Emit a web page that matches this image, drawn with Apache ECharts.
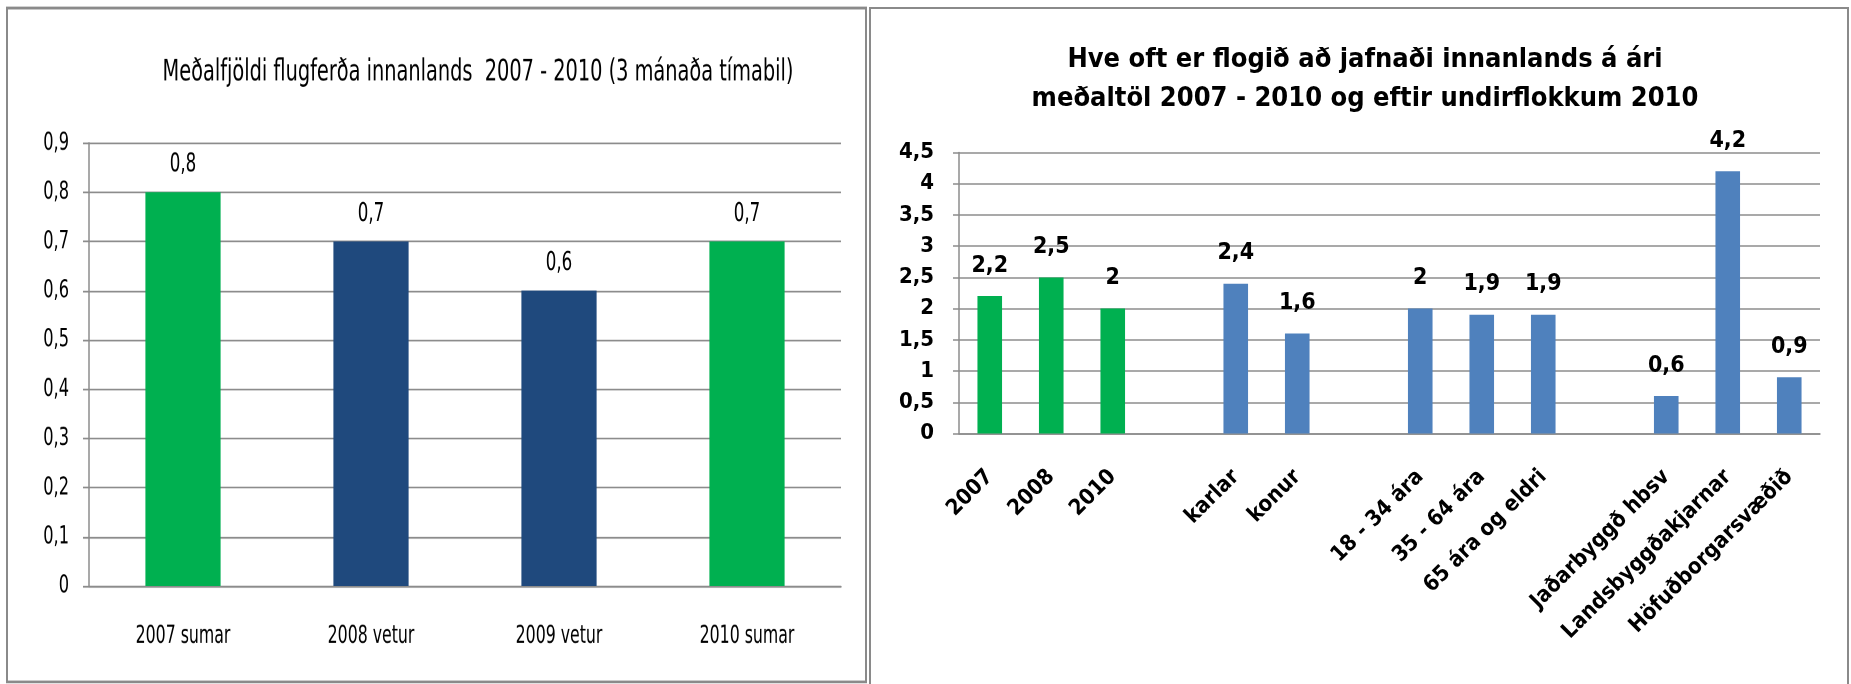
<!DOCTYPE html>
<html>
<head>
<meta charset="UTF-8">
<title>Flugferðir innanlands</title>
<script src="https://cdn.jsdelivr.net/npm/echarts@6/dist/echarts.min.js"></script>
<style>
  * { margin: 0; padding: 0; }
  html, body { width: 100%; height: 100%; background: #fff; }
  #wrap { position: relative; width: 1851px; height: 684px; overflow: hidden; }
  /* vinstra grafið er teygt á hæðina eins og í frumritinu */
  #left { position: absolute; left: 0; top: 0; width: 868px; height: 489px;
          transform: scaleY(1.39877); transform-origin: 0 0; }
  #right { position: absolute; left: 868px; top: 0; width: 983px; height: 684px; }
</style>
</head>
<body>
<div id="wrap">
  <div id="left"></div>
  <div id="right"></div>
</div>
<script>
// vinstra graf: 3 mánaða tímabil
var periodCats = ['2007 sumar', '2008 vetur', '2009 vetur', '2010 sumar'];
var periodVals = [0.8, 0.7, 0.6, 0.7];
var leftTicks = [0, 0.1, 0.2, 0.3, 0.4, 0.5, 0.6, 0.7, 0.8, 0.9];

// hægra graf: á ári, eftir undirflokkum
var yearCats = ['2007', '2008', '2010'];
var yearVals = [2.2, 2.5, 2];
var genderCats = ['karlar', 'konur'];
var genderVals = [2.4, 1.6];
var ageCats = ['18 - 34 ára', '35 - 64 ára', '65 ára og eldri'];
var ageVals = [2, 1.9, 1.9];
var regionCats = ['Jaðarbyggð hbsv', 'Landsbyggðakjarnar', 'Höfuðborgarsvæðið'];
var regionVals = [0.6, 4.2, 0.9];
var rightTicks = [0, 0.5, 1, 1.5, 2, 2.5, 3, 3.5, 4, 4.5];

var GREEN = '#00b050', DARK = '#1f497d', BLUE = '#4f81bd', GRID = '#8c8c8c';
var FONT = '"Liberation Sans Narrow", "DejaVu Sans Condensed", "Liberation Sans", sans-serif';

function comma(v) {
    return String(+(+v).toFixed(1)).replace('.', ',');
}

// hópar með auðu bili á milli
var rightCats = [], rightVals = [];
[[yearCats, yearVals], [genderCats, genderVals], [ageCats, ageVals], [regionCats, regionVals]].forEach(function (g, i) {
    if (i > 0) { rightCats.push(''); rightVals.push(null); }
    for (var k = 0; k < g[0].length; k++) {
        rightCats.push(g[0][k]);
        rightVals.push(g[1][k]);
    }
});

var leftChart = echarts.init(document.getElementById('left'), null, { devicePixelRatio: 2 });
leftChart.setOption({
    animation: false,
    textStyle: { fontFamily: FONT, color: '#000' },
    graphic: [
        { type: 'rect', shape: { x: 7, y: 5.7, width: 859, height: 481.8 }, style: { fill: 'none', stroke: '#8a8a8a', lineWidth: 2 } }
    ],
    title: {
        text: 'Meðalfjöldi flugferða innanlands  2007 - 2010 (3 mánaða tímabil)',
        left: 473, top: 36, textAlign: 'center',
        textStyle: { fontFamily: FONT, fontSize: 21.5, fontWeight: 'normal', color: '#000' }
    },
    grid: { left: 89, right: 27, top: 102.2, bottom: 70 },
    xAxis: {
        type: 'category', data: periodCats,
        axisLine: { lineStyle: { color: GRID, width: 1.3 } },
        axisTick: { length: 5.7, lineStyle: { color: GRID, width: 1.5 } },
        axisLabel: { fontFamily: FONT, fontSize: 17.5, color: '#000', margin: 27 }
    },
    yAxis: {
        type: 'value', min: leftTicks[0], max: leftTicks[leftTicks.length - 1], interval: 0.1,
        axisLine: { show: true, lineStyle: { color: GRID, width: 1.5 } },
        axisTick: { show: true, length: 6, lineStyle: { color: GRID, width: 1.3 } },
        splitLine: { lineStyle: { color: GRID, width: 1.3 } },
        axisLabel: { fontFamily: FONT, fontSize: 18, color: '#000', margin: 20, formatter: comma }
    },
    series: [{
        type: 'bar', data: periodVals,
        barWidth: '40%',
        itemStyle: {
            color: function (p) { return p.name.indexOf('sumar') >= 0 ? GREEN : DARK; }
        },
        label: {
            show: true, position: 'top', distance: 10,
            fontFamily: FONT, fontSize: 18.5, color: '#000',
            formatter: function (p) { return comma(p.value); }
        }
    }]
});

var rightChart = echarts.init(document.getElementById('right'));
rightChart.setOption({
    animation: false,
    textStyle: { fontFamily: FONT, color: '#000' },
    graphic: [
        { type: 'rect', shape: { x: 2, y: 8, width: 978, height: 690 }, style: { fill: 'none', stroke: '#8a8a8a', lineWidth: 2 } }
    ],
    title: {
        text: 'Hve oft er flogið að jafnaði innanlands á ári\nmeðaltöl 2007 - 2010 og eftir undirflokkum 2010',
        left: 492, top: 35, textAlign: 'center',
        textStyle: { fontFamily: FONT, fontSize: 27, fontWeight: 'bold', lineHeight: 39, color: '#000' }
    },
    grid: { left: 91, right: 31, top: 152.5, bottom: 250.5 },
    xAxis: {
        type: 'category', data: rightCats,
        axisLine: { lineStyle: { color: GRID, width: 1.5 } },
        axisTick: { length: 9, lineStyle: { color: GRID, width: 1.5 } },
        axisLabel: { fontFamily: FONT, fontSize: 22, fontWeight: 'bold', color: '#000', rotate: 45, margin: 40, interval: 0 }
    },
    yAxis: {
        type: 'value', min: rightTicks[0], max: rightTicks[rightTicks.length - 1], interval: 0.5,
        axisLine: { show: true, lineStyle: { color: GRID, width: 1.5 } },
        axisTick: { show: true, length: 6, lineStyle: { color: GRID, width: 1.5 } },
        splitLine: { lineStyle: { color: GRID, width: 1.5 } },
        axisLabel: { fontFamily: FONT, fontSize: 22, fontWeight: 'bold', color: '#000', margin: 25, formatter: comma }
    },
    series: [{
        type: 'bar', data: rightVals,
        barWidth: '40%',
        itemStyle: {
            color: function (p) { return yearCats.indexOf(p.name) >= 0 ? GREEN : BLUE; }
        },
        label: {
            show: true, position: 'top', distance: 19,
            fontFamily: FONT, fontSize: 23, fontWeight: 'bold', color: '#000',
            formatter: function (p) { return comma(p.value); }
        }
    }]
});
</script>
</body>
</html>
